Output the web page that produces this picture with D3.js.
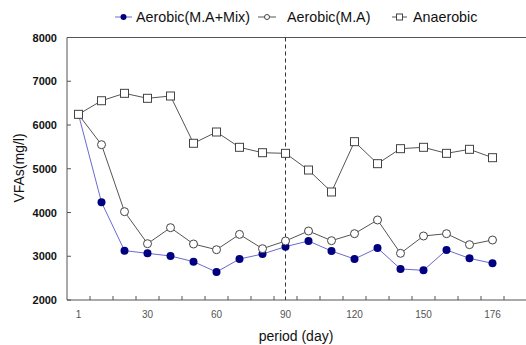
<!DOCTYPE html>
<html><head><meta charset="utf-8">
<script src="https://cdn.jsdelivr.net/npm/d3@7"></script>
<style>body{margin:0;background:#fff}svg{display:block;font-family:"Liberation Sans",Arial,sans-serif}</style>
</head><body><svg id="c" width="526" height="345"></svg>
<script>
const days = [1,10,20,30,40,50,60,70,80,90,100,110,120,130,140,150,160,170,176];
const tickDays = [1,30,60,90,120,150,176];
const mix = [6240,4233,3128,3067,3006,2876,2640,2937,3051,3219,3349,3120,2937,3189,2709,2678,3143,2952,2838];
const ma = [6240,5550,4019,3287,3653,3280,3150,3500,3173,3349,3577,3356,3516,3829,3067,3463,3516,3265,3371];
const anaerobic = [6244,6555,6724,6610,6663,5582,5840,5490,5367,5352,4971,4469,5619,5116,5459,5490,5352,5444,5253];
const yTicks = [2000,3000,4000,5000,6000,7000,8000];
const seriesNames = ["Aerobic(M.A+Mix)","Aerobic(M.A)","Anaerobic"];

const svg = d3.select("#c");
const L=67, R=526, T=37.5, B=300, step=23;
const x = d3.scaleBand().domain(days).range([L, L+step*days.length]);
const y = d3.scaleLinear().domain([2000,8000]).range([B,T]);
const cx = d => x(d)+x.bandwidth()/2;
const axisCol="#555";

// frame
svg.append("line").attr("x1",L).attr("x2",R).attr("y1",T).attr("y2",T).attr("stroke",axisCol);
svg.append("line").attr("x1",L).attr("x2",L).attr("y1",T).attr("y2",B).attr("stroke",axisCol);
svg.append("line").attr("x1",L).attr("x2",R).attr("y1",B).attr("y2",B).attr("stroke",axisCol);

// y ticks
const ya = svg.append("g");
yTicks.forEach(v=>{
  ya.append("line").attr("x1",L).attr("x2",L+4).attr("y1",y(v)).attr("y2",y(v)).attr("stroke",axisCol);
  ya.append("text").attr("x",57).attr("y",y(v)+4).attr("text-anchor","end")
    .attr("font-size",11).attr("font-weight","bold").attr("fill","#111").text(v);
});
// x ticks at band boundaries
days.concat([null]).forEach((d,i)=>{
  const xx = L + i*x.step();
  if(i===0) return;
  svg.append("line").attr("x1",xx).attr("x2",xx).attr("y1",B).attr("y2",B-4).attr("stroke",axisCol);
});
tickDays.forEach(d=>{
  svg.append("text").attr("x",cx(d)).attr("y",318).attr("text-anchor","middle")
    .attr("font-size",10).attr("fill","#555").text(d);
});

// dashed line at day 90
svg.append("line").attr("x1",cx(90)).attr("x2",cx(90)).attr("y1",T).attr("y2",B)
  .attr("stroke","#333").attr("stroke-dasharray","4,3");

// titles
svg.append("text").attr("x",296).attr("y",341).attr("text-anchor","middle").attr("font-size",14).attr("fill","#111").text("period (day)");
svg.append("text").attr("transform","translate(24,168) rotate(-90)").attr("text-anchor","middle").attr("font-size",14).attr("fill","#111").text("VFAs(mg/l)");

const line = d3.line().x((v,i)=>cx(days[i])).y(v=>y(v));
// series
const g = svg.append("g");
g.append("path").attr("d",line(anaerobic)).attr("fill","none").attr("stroke","#555").attr("stroke-width",1);
g.append("path").attr("d",line(ma)).attr("fill","none").attr("stroke","#555").attr("stroke-width",1);
g.append("path").attr("d",line(mix)).attr("fill","none").attr("stroke","#6a6ad0").attr("stroke-width",1);

g.selectAll(".m").data(mix).enter().append("circle").attr("cx",(v,i)=>cx(days[i])).attr("cy",v=>y(v)).attr("r",4).attr("fill","#000080");
g.selectAll(".o").data(ma).enter().append("circle").attr("cx",(v,i)=>cx(days[i])).attr("cy",v=>y(v)).attr("r",4).attr("fill","#fff").attr("stroke","#444");
g.selectAll(".s").data(anaerobic).enter().append("rect").attr("x",(v,i)=>cx(days[i])-4).attr("y",v=>y(v)-4).attr("width",8).attr("height",8).attr("fill","#fff").attr("stroke","#444");

// legend
const lg = svg.append("g").attr("font-size",14.3).attr("fill","#111");
const ly=17;
// mix
lg.append("line").attr("x1",115).attr("x2",132).attr("y1",ly).attr("y2",ly).attr("stroke","#6a6ad0");
lg.append("circle").attr("cx",123.5).attr("cy",ly).attr("r",3).attr("fill","#000080");
lg.append("text").attr("x",136).attr("y",ly+5).text(seriesNames[0]);
// ma
lg.append("line").attr("x1",258).attr("x2",276).attr("y1",ly).attr("y2",ly).attr("stroke","#555");
lg.append("circle").attr("cx",267).attr("cy",ly).attr("r",2.5).attr("fill","#fff").attr("stroke","#444");
lg.append("text").attr("x",287).attr("y",ly+5).text(seriesNames[1]);
// anaerobic
lg.append("line").attr("x1",392).attr("x2",407).attr("y1",ly).attr("y2",ly).attr("stroke","#555");
lg.append("rect").attr("x",396.5).attr("y",ly-3).attr("width",6).attr("height",6).attr("fill","#fff").attr("stroke","#444");
lg.append("text").attr("x",413).attr("y",ly+5).text(seriesNames[2]);
</script></body></html>
